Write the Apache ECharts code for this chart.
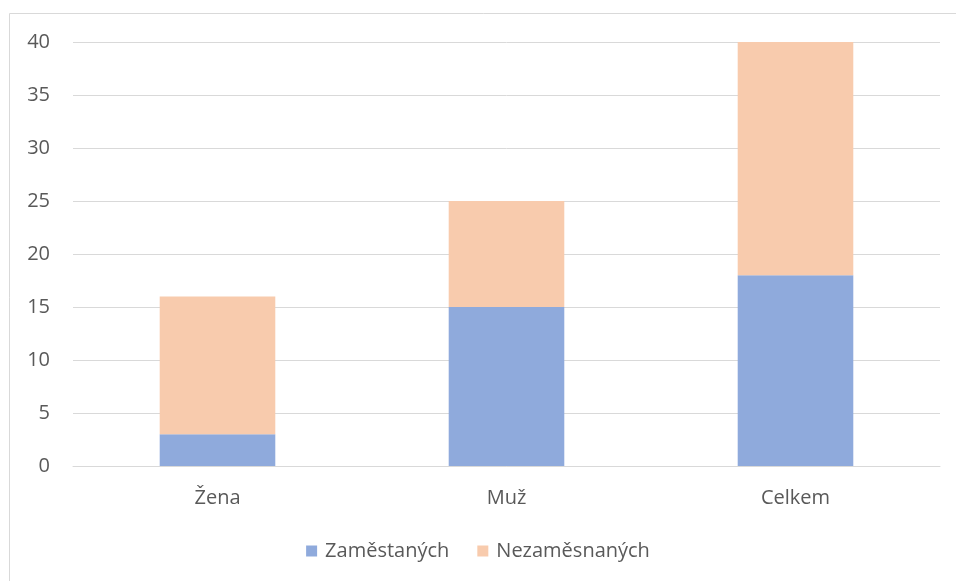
<!DOCTYPE html>
<html>
<head>
<meta charset="utf-8">
<script src="https://cdn.jsdelivr.net/npm/echarts@6/dist/echarts.min.js"></script>
<style>
  html, body { margin: 0; padding: 0; background: #fff; }
  #chart { width: 956px; height: 581px; }
</style>
</head>
<body>
<div id="chart"></div>
<script>
const categories = ['Žena', 'Muž', 'Celkem'];
const employed = [3, 15, 18];
const unemployed = [13, 10, 22];
const seriesNames = ['Zaměstaných', 'Nezaměsnaných'];

const font = '"Open Sans", "Noto Sans", sans-serif';

const option = {
  animation: false,
  textStyle: { fontFamily: font },
  graphic: [{
    type: 'rect',
    shape: { x: 9.5, y: 13.5, width: 1000, height: 1000 },
    style: { fill: 'none', stroke: '#d9d9d9', lineWidth: 1 },
    silent: true
  }],
  grid: { left: 73, right: 16, top: 42, bottom: 115 },
  legend: {
    data: seriesNames,
    top: 536,
    left: 'center',
    itemWidth: 11,
    itemHeight: 11,
    itemGap: 28,
    icon: 'rect',
    textStyle: { fontFamily: font, fontSize: 20, color: '#595959', padding: [0, 0, 0, 3] }
  },
  xAxis: {
    type: 'category',
    data: categories,
    axisLine: { lineStyle: { color: '#d9d9d9' } },
    axisTick: { show: false },
    axisLabel: { fontFamily: font, fontSize: 20, color: '#595959', margin: 22 }
  },
  yAxis: {
    type: 'value',
    min: 0,
    max: 40,
    interval: 5,
    axisLine: { show: false },
    axisTick: { show: false },
    splitLine: { lineStyle: { color: '#d9d9d9' } },
    axisLabel: { fontFamily: font, fontSize: 20, color: '#595959', margin: 23 }
  },
  series: [
    {
      name: seriesNames[0],
      type: 'bar',
      stack: 'total',
      barWidth: '40%',
      data: employed,
      itemStyle: { color: '#8faadc' }
    },
    {
      name: seriesNames[1],
      type: 'bar',
      stack: 'total',
      barWidth: '40%',
      data: unemployed,
      itemStyle: { color: '#f8cbad' }
    }
  ]
};

echarts.init(document.getElementById('chart')).setOption(option);
</script>
</body>
</html>
